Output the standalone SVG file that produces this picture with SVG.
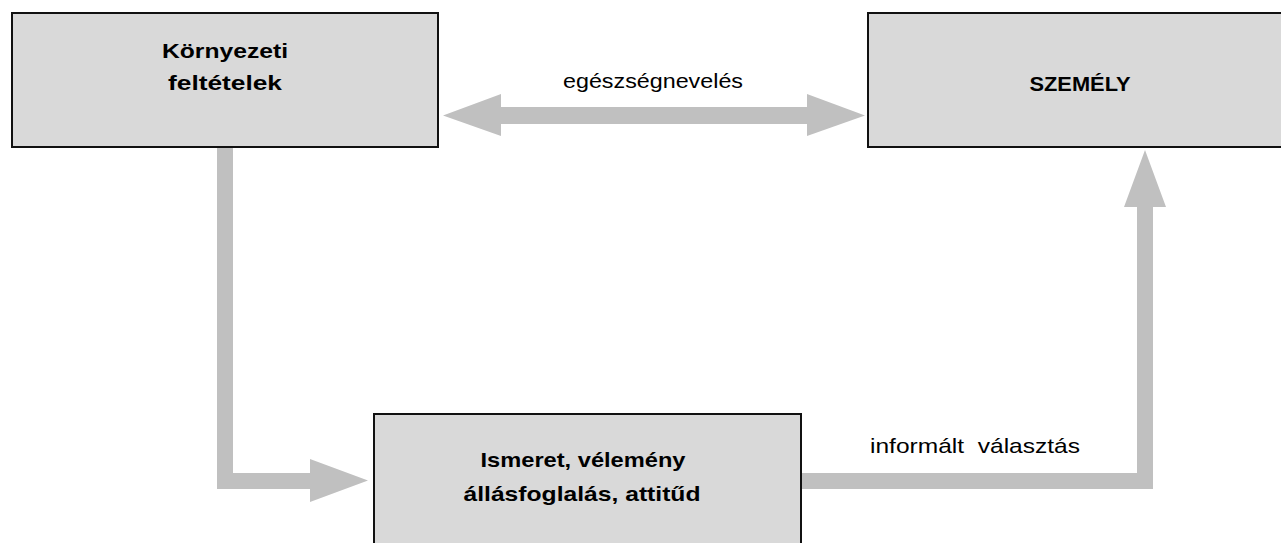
<svg xmlns="http://www.w3.org/2000/svg" width="1281" height="543" viewBox="0 0 1281 543">
<style>
.box{fill:#d9d9d9;stroke:#111;stroke-width:2}
.arr{fill:#c0c0c0;stroke:none}
.b{font-family:"Liberation Sans",Arial,sans-serif;font-weight:bold;font-size:21px;fill:#000;text-anchor:middle}
.r{font-family:"Liberation Sans",Arial,sans-serif;font-size:21px;fill:#000;text-anchor:middle}
</style>
<rect width="1281" height="543" fill="#fff"/>
<g id="connectors">
<polygon class="arr" points="443,115.5 501,94 501,107 807,107 807,124 501,124 501,136"/>
<polygon class="arr" points="865,115.5 807,94 807,136"/>
<polygon class="arr" points="217,147 233,147 233,473 310,473 310,459 368,480.5 310,502 310,489 217,489"/>
<polygon class="arr" points="802,473 1137,473 1137,207 1124,207 1145,150 1166,207 1153,207 1153,489 802,489"/>
<text class="r" x="653" y="88" textLength="180" lengthAdjust="spacingAndGlyphs">egészségnevelés</text>
<text class="r" x="975" y="453" textLength="210" lengthAdjust="spacingAndGlyphs" xml:space="preserve">informált  választás</text>
</g>
<g id="node-kornyezeti">
<rect class="box" x="12" y="13" width="426" height="134"/>
<text class="b" x="225" y="58" textLength="126" lengthAdjust="spacingAndGlyphs">Környezeti</text>
<text class="b" x="225" y="90" textLength="114" lengthAdjust="spacingAndGlyphs">feltételek</text>
</g>
<g id="node-szemely">
<rect class="box" x="868" y="13" width="420" height="134"/>
<text class="b" x="1080" y="91" textLength="101" lengthAdjust="spacingAndGlyphs">SZEMÉLY</text>
</g>
<g id="node-ismeret">
<rect class="box" x="374" y="414" width="427" height="140"/>
<text class="b" x="583" y="467" textLength="205" lengthAdjust="spacingAndGlyphs">Ismeret, vélemény</text>
<text class="b" x="582" y="501" textLength="237" lengthAdjust="spacingAndGlyphs">állásfoglalás, attitűd</text>
</g>
</svg>
